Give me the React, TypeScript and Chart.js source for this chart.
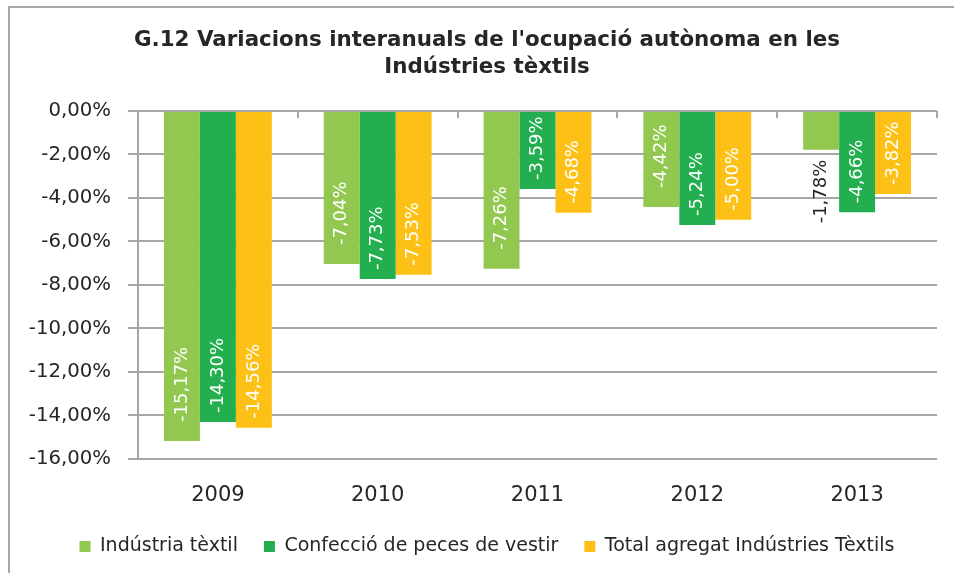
import React, { useEffect, useRef } from "react";
import { Chart, registerables } from "chart.js";

Chart.register(...registerables);

const titleLines = [
  "G.12 Variacions interanuals de l'ocupació autònoma en les",
  "Indústries tèxtils",
];
const categories = ["2009", "2010", "2011", "2012", "2013"];
const seriesNames = [
  "Indústria tèxtil",
  "Confecció de peces de vestir",
  "Total agregat Indústries Tèxtils",
];
const industriaTextil = [-15.17, -7.04, -7.26, -4.42, -1.78];
const confeccioPeces = [-14.3, -7.73, -3.59, -5.24, -4.66];
const totalAgregat = [-14.56, -7.53, -4.68, -5.0, -3.82];
const yMin = -16;
const yMax = 0;
const yStep = 2;

const seriesColors = ["#92C84F", "#23AE4F", "#FCC016"];
const labelInsidePad = [19, 9, 9];
const FONT = '"DejaVu Sans", Verdana, sans-serif';
const TEXT = "#262626";
const GRID = "#a6a6a6";

const fmt = (v: number) => {
  const s = Math.abs(v) < 1e-9 ? "0,00" : v.toFixed(2).replace(".", ",");
  return s + "%";
};

const barLabelPlugin = {
  id: "barLabels",
  afterDatasetsDraw(chart: any) {
    const ctx = chart.ctx;
    chart.data.datasets.forEach((ds: any, di: number) => {
      const meta = chart.getDatasetMeta(di);
      meta.data.forEach((el: any, i: number) => {
        const v = ds.data[i] as number;
        const text = fmt(v);
        ctx.save();
        ctx.font = `18px ${FONT}`;
        const w = ctx.measureText(text).width;
        const len = Math.abs(el.y - el.base);
        const pad = labelInsidePad[di];
        ctx.textBaseline = "middle";
        if (w + pad + 4 <= len) {
          ctx.fillStyle = "#ffffff";
          ctx.translate(el.x, el.y - pad);
          ctx.rotate(-Math.PI / 2);
          ctx.textAlign = "left";
        } else {
          ctx.fillStyle = TEXT;
          ctx.translate(el.x, el.y + 10);
          ctx.rotate(-Math.PI / 2);
          ctx.textAlign = "right";
        }
        ctx.fillText(text, 0, 0);
        ctx.restore();
      });
    });
  },
};

const topTicksPlugin = {
  id: "topTicks",
  afterDraw(chart: any) {
    const x = chart.scales.x;
    const top = chart.chartArea.top;
    const n = chart.data.labels.length;
    const ctx = chart.ctx;
    ctx.save();
    ctx.strokeStyle = GRID;
    ctx.lineWidth = 2;
    for (let i = 1; i <= n; i++) {
      const px = Math.round(x.left + (i * (x.right - x.left)) / n);
      ctx.beginPath();
      ctx.moveTo(px, top);
      ctx.lineTo(px, top + 7);
      ctx.stroke();
    }
    ctx.restore();
  },
};

export default function App() {
  const ref = useRef<HTMLCanvasElement | null>(null);

  useEffect(() => {
    if (!ref.current) return;
    Chart.defaults.font.family = FONT;
    const data = [industriaTextil, confeccioPeces, totalAgregat];
    const chart = new Chart(ref.current, {
      type: "bar",
      data: {
        labels: categories,
        datasets: seriesNames.map((name, i) => ({
          label: name,
          data: data[i],
          backgroundColor: seriesColors[i],
          borderWidth: 0,
          categoryPercentage: 0.675,
          barPercentage: 1.0,
        })),
      },
      options: {
        responsive: false,
        animation: false,
        layout: { padding: { left: 37, right: 37, top: 0, bottom: 7 } },
        plugins: {
          title: {
            display: true,
            text: titleLines,
            color: TEXT,
            font: { family: FONT, size: 21.4, weight: "bold", lineHeight: 1.26 },
            padding: { top: 26.5, bottom: 30.5 },
          },
          legend: {
            position: "bottom",
            labels: {
              boxWidth: 11,
              boxHeight: 11,
              padding: 26,
              color: TEXT,
              font: { family: FONT, size: 19 },
            },
          },
          tooltip: { enabled: false },
        },
        scales: {
          x: {
            afterFit: (scale: any) => {
              scale.height = 52;
            },
            grid: { display: false, drawTicks: false },
            border: { display: false },
            ticks: {
              color: TEXT,
              padding: 24,
              font: { family: FONT, size: 21 },
            },
          },
          y: {
            min: yMin,
            max: yMax,
            afterFit: (scale: any) => {
              scale.width = 101;
              scale._computeLabelArea = () => undefined;
            },
            ticks: {
              stepSize: yStep,
              color: TEXT,
              padding: 17,
              font: { family: FONT, size: 19.7 },
              callback: (v: any) => fmt(Number(v)),
            },
            grid: { color: GRID, lineWidth: 2, tickLength: 10, drawTicks: true },
            border: { display: true, color: GRID, width: 2 },
          },
        },
      },
      plugins: [barLabelPlugin, topTicksPlugin],
    });
    return () => chart.destroy();
  }, []);

  return (
    <div
      style={{
        position: "fixed",
        left: 0,
        top: 0,
        width: 954,
        height: 573,
        overflow: "hidden",
        background: "#ffffff",
      }}
    >
      <div
        style={{
          position: "absolute",
          left: 8,
          top: 6,
          width: 1000,
          height: 1000,
          border: `2px solid ${GRID}`,
        }}
      />
      <canvas
        ref={ref}
        width={974}
        height={573}
        style={{ position: "absolute", left: 0, top: 0, width: 974, height: 573 }}
      />
    </div>
  );
}
